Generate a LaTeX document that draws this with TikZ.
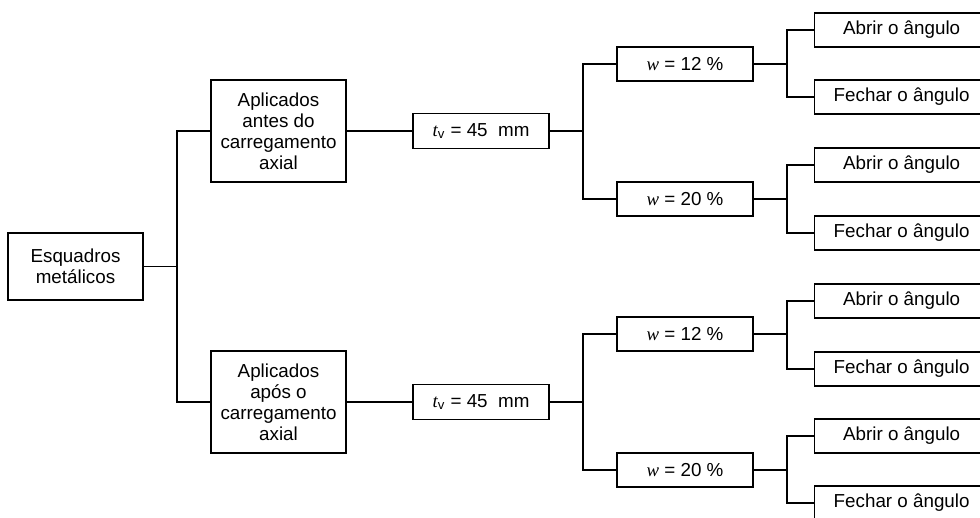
\documentclass[tikz,border=0pt]{standalone}
\usepackage{fontspec}
\setmainfont{Liberation Sans}
\newfontfamily\timesfont{Liberation Serif}
\newcommand{\ivar}[1]{{\timesfont\itshape #1}}
\begin{document}
\begin{tikzpicture}[x=0.5pt,y=-0.5pt,
  line width=0.65pt,
  every node/.style={font=\fontsize{9.4}{10.5}\selectfont},
  box/.style={draw, inner sep=0pt, align=center, minimum width=#1},
  rootbox/.style={box=67.5pt, minimum height=33.5pt},
  appbox/.style={box=67.5pt, minimum height=51pt},
  tvbox/.style={box=68pt, minimum height=17.5pt},
  wbox/.style={box=68pt, minimum height=17pt},
  endbox/.style={box=87pt, minimum height=17pt, anchor=west}]
\useasboundingbox (0,0) rectangle (980,518);
\clip (0,0) rectangle (980,518);

% root
\node[rootbox] (root) at (75.5,266.5) {Esquadros\\metálicos};

% application stage
\node[appbox] (a1) at (278.5,131) {Aplicados\\antes do\\carregamento\\axial};
\node[appbox] (a2) at (278.5,402) {Aplicados\\após o\\carregamento\\axial};

% thickness
\node[tvbox] (t1) at (481,131) {\ivar{t}\textsubscript{v} = 45\ \ mm};
\node[tvbox] (t2) at (481,402) {\ivar{t}\textsubscript{v} = 45\ \ mm};

% moisture content
\node[wbox] (w1) at (685,64)  {\ivar{w} = 12 \%};
\node[wbox] (w2) at (685,199) {\ivar{w} = 20 \%};
\node[wbox] (w3) at (685,334) {\ivar{w} = 12 \%};
\node[wbox] (w4) at (685,470) {\ivar{w} = 20 \%};

% actions
\node[endbox] (r1) at (814,30)  {Abrir o ângulo};
\node[endbox] (r2) at (814,97)  {Fechar o ângulo};
\node[endbox] (r3) at (814,165) {Abrir o ângulo};
\node[endbox] (r4) at (814,233) {Fechar o ângulo};
\node[endbox] (r5) at (814,301) {Abrir o ângulo};
\node[endbox] (r6) at (814,369) {Fechar o ângulo};
\node[endbox] (r7) at (814,436) {Abrir o ângulo};
\node[endbox] (r8) at (814,503) {Fechar o ângulo};

% junction points
\coordinate (j0) at (177,266.5);
\coordinate (j1) at (583,131);
\coordinate (j2) at (583,402);
\coordinate (k1) at (787,64);
\coordinate (k2) at (787,199);
\coordinate (k3) at (787,334);
\coordinate (k4) at (787,470);

% connectors
\draw (root.east) -- (j0);
\draw (a1.west) -| (j0) |- (a2.west);
\draw (a1.east) -- (t1.west);
\draw (a2.east) -- (t2.west);
\draw (t1.east) -- (j1);
\draw (t2.east) -- (j2);
\draw (w1.west) -| (j1) |- (w2.west);
\draw (w3.west) -| (j2) |- (w4.west);
\draw (w1.east) -- (k1);
\draw (w2.east) -- (k2);
\draw (w3.east) -- (k3);
\draw (w4.east) -- (k4);
\draw (r1.west) -| (k1) |- (r2.west);
\draw (r3.west) -| (k2) |- (r4.west);
\draw (r5.west) -| (k3) |- (r6.west);
\draw (r7.west) -| (k4) |- (r8.west);
\end{tikzpicture}
\end{document}
